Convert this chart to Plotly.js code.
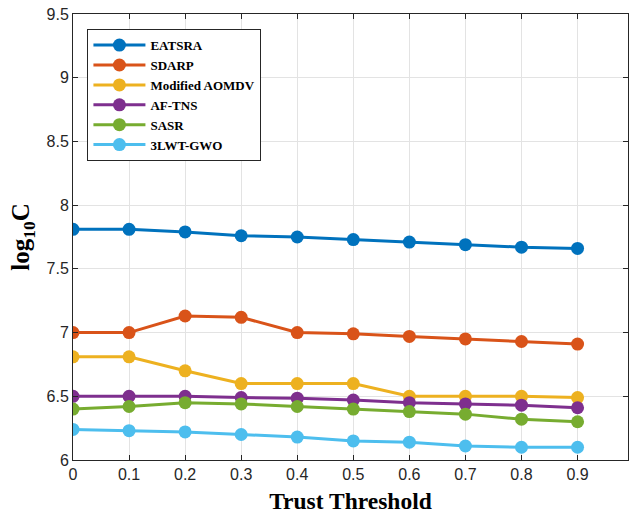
<!DOCTYPE html>
<html>
<head>
<meta charset="utf-8">
<script src="https://cdn.plot.ly/plotly-3.0.1.min.js"></script>
<style>html,body{margin:0;padding:0;background:#fff;}#chart{width:630px;height:514px;}</style>
</head>
<body>
<div id="chart"></div>
<script>
const thresholds = [0, 0.1, 0.2, 0.3, 0.4, 0.5, 0.6, 0.7, 0.8, 0.9];
const eatsra   = [7.81, 7.81, 7.79, 7.76, 7.75, 7.73, 7.71, 7.69, 7.67, 7.66];
const sdarp    = [7.00, 7.00, 7.13, 7.12, 7.00, 6.99, 6.97, 6.95, 6.93, 6.91];
const aomdv    = [6.81, 6.81, 6.70, 6.60, 6.60, 6.60, 6.50, 6.50, 6.50, 6.49];
const afTns    = [6.50, 6.50, 6.50, 6.49, 6.485, 6.47, 6.45, 6.44, 6.43, 6.41];
const sasr     = [6.40, 6.42, 6.45, 6.44, 6.42, 6.40, 6.38, 6.36, 6.32, 6.30];
const lwtGwo   = [6.24, 6.23, 6.22, 6.20, 6.18, 6.15, 6.14, 6.11, 6.10, 6.10];
const seriesNames = ['EATSRA', 'SDARP', 'Modified AOMDV', 'AF-TNS', 'SASR', '3LWT-GWO'];
const seriesValues = [eatsra, sdarp, aomdv, afTns, sasr, lwtGwo];
const colors = ['#0072BD', '#D95319', '#EDB120', '#7E2F8E', '#77AC30', '#4DBEEE'];
const xTickVals = [0, 0.1, 0.2, 0.3, 0.4, 0.5, 0.6, 0.7, 0.8, 0.9];
const xTickText = ['0', '0.1', '0.2', '0.3', '0.4', '0.5', '0.6', '0.7', '0.8', '0.9'];
const yTickVals = [6, 6.5, 7, 7.5, 8, 8.5, 9, 9.5];
const yTickText = ['6', '6.5', '7', '7.5', '8', '8.5', '9', '9.5'];

const traces = seriesNames.map((name, i) => ({
  x: thresholds,
  y: seriesValues[i],
  name: name,
  type: 'scatter',
  mode: 'lines+markers',
  line: {color: colors[i], width: 3},
  marker: {color: colors[i], size: 13}
}));

const axisCommon = {
  showline: true, linecolor: '#262626', linewidth: 1, mirror: 'ticks',
  ticks: 'inside', ticklen: 5, tickcolor: '#262626', tickwidth: 1,
  showgrid: true, gridcolor: '#e3e3e3', gridwidth: 1, zeroline: false,
  tickfont: {family: 'Liberation Sans, Arial, sans-serif', size: 16, color: '#262626'}
};

const layout = {
  width: 630, height: 514,
  margin: {l: 72.5, r: 2, t: 14, b: 54.3},
  paper_bgcolor: '#fff', plot_bgcolor: '#fff',
  showlegend: true,
  legend: {
    x: 0.026, y: 0.966, xanchor: 'left', yanchor: 'top',
    bgcolor: '#fff', bordercolor: '#262626', borderwidth: 1,
    itemwidth: 52,
    font: {family: 'Liberation Serif, Times New Roman, serif', size: 13, color: '#000', weight: 'bold'},
    tracegroupgap: 0
  },
  xaxis: Object.assign({}, axisCommon, {
    range: [0, 0.99], tickvals: xTickVals, ticktext: xTickText,
    title: {text: 'Trust Threshold', standoff: 12,
      font: {family: 'Liberation Serif, Times New Roman, serif', size: 23.5, color: '#000', weight: 'bold'}}
  }),
  yaxis: Object.assign({}, axisCommon, {
    range: [6, 9.5], tickvals: yTickVals, ticktext: yTickText,
    title: {text: 'log<sub>10</sub>C', standoff: 9,
      font: {family: 'Liberation Serif, Times New Roman, serif', size: 25, color: '#000', weight: 'bold'}}
  })
};

Plotly.newPlot('chart', traces, layout, {displayModeBar: false, staticPlot: true});
</script>
</body>
</html>
